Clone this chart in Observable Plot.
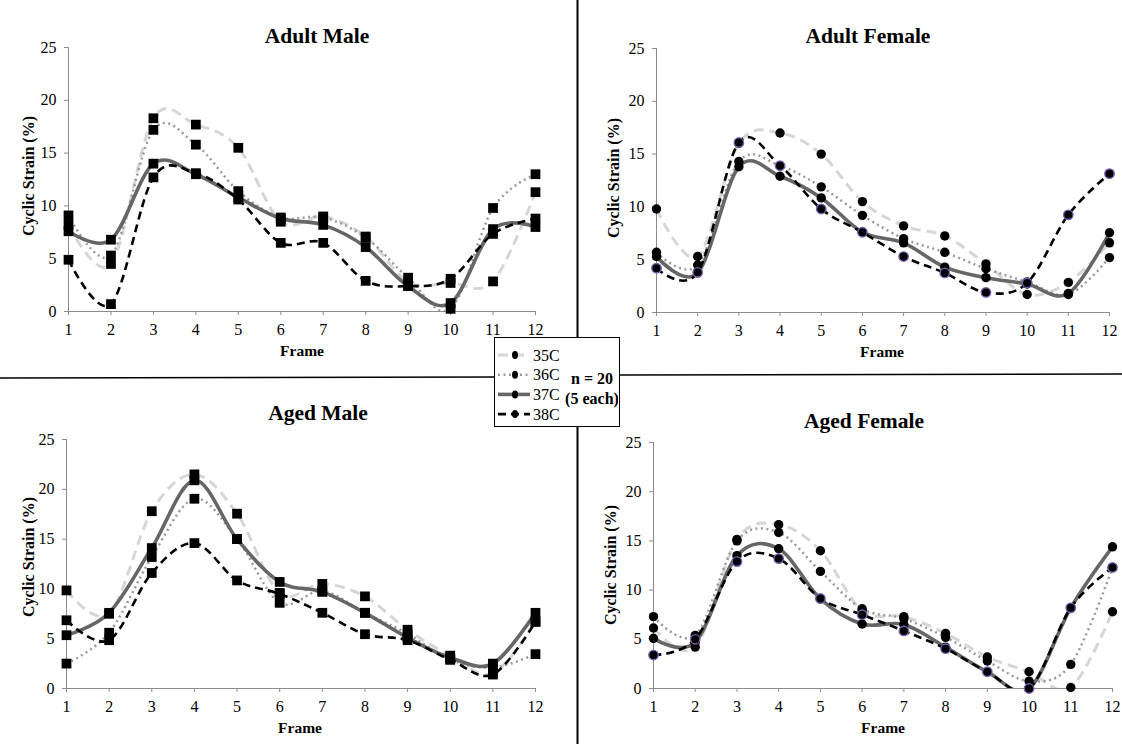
<!DOCTYPE html>
<html>
<head>
<meta charset="utf-8">
<script src="https://cdn.jsdelivr.net/npm/d3@7"></script>
<script src="https://cdn.jsdelivr.net/npm/@observablehq/plot@0.6"></script>
<style>
  body { margin: 0; background: #fff; }
  #root { position: relative; width: 1122px; height: 744px; overflow: hidden; font-family: "Liberation Serif", "Times New Roman", serif; color: #000; }
  .panel { position: absolute; }
  .lbl { position: absolute; transform: translate(-50%, -50%); white-space: nowrap; font-weight: bold; font-family: "Liberation Serif", "Times New Roman", serif; }
  .title { font-size: 21.5px; }
  .xlab { font-size: 15.5px; }
  .ylab { font-size: 16px; transform: translate(-50%, -50%) rotate(-90deg); }
  #dividers { position: absolute; left: 0; top: 0; }
  #legend { position: absolute; left: 494px; top: 337px; width: 126px; height: 90px; box-sizing: border-box; border: 1.5px solid #000; background: #fff; }
</style>
</head>
<body>
<div id="root"></div>
<script>
// ---- data ----
const frames = [1, 2, 3, 4, 5, 6, 7, 8, 9, 10, 11, 12];
const seriesNames = ["35C", "36C", "37C", "38C"];
const yTicks = [0, 5, 10, 15, 20, 25];
const panelTitles = ["Adult Male", "Adult Female", "Aged Male", "Aged Female"];
const xLabel = "Frame";
const yLabel = "Cyclic Strain (%)";
const legendNote = ["n = 20", "(5 each)"];

const adultMale35C = [8.2, 4.5, 18.3, 17.7, 15.5, 8.5, 9.0, 7.1, 2.8, 2.7, 2.85, 11.3];
const adultMale36C = [9.1, 5.3, 17.2, 15.8, 11.4, 8.9, 8.9, 7.0, 3.2, 0.25, 9.8, 13.0];
const adultMale37C = [7.6, 6.8, 14.0, 13.0, 10.8, 8.8, 8.2, 6.1, 2.4, 0.8, 7.8, 8.0];
const adultMale38C = [4.9, 0.7, 12.7, 13.1, 10.6, 6.5, 6.5, 2.9, 2.4, 3.1, 7.35, 8.8];

const adultFemale35C = [9.8, 5.3, 16.0, 17.0, 15.0, 10.5, 8.2, 7.25, 4.6, 1.7, 2.85, 6.6];
const adultFemale36C = [5.7, 4.5, 14.3, 13.9, 11.9, 9.2, 7.0, 5.7, 4.15, 2.9, 1.7, 5.2];
const adultFemale37C = [5.3, 3.75, 13.8, 12.9, 10.85, 7.6, 6.6, 4.3, 3.3, 2.7, 1.8, 7.55];
const adultFemale38C = [4.2, 3.8, 16.1, 13.9, 9.8, 7.6, 5.3, 3.75, 1.9, 2.8, 9.25, 13.15];

const agedMale35C = [9.85, 7.5, 17.8, 21.5, 17.55, 9.6, 10.5, 9.25, 5.9, 3.3, 1.5, 6.7];
const agedMale36C = [2.5, 5.6, 13.2, 19.05, 15.0, 8.6, 9.8, 7.6, 5.5, 2.9, 2.1, 3.45];
const agedMale37C = [5.35, 7.6, 14.1, 20.9, 15.0, 10.7, 9.7, 7.6, 5.1, 3.1, 2.5, 7.6];
const agedMale38C = [6.85, 4.85, 11.6, 14.6, 10.85, 9.5, 7.6, 5.45, 4.85, 2.9, 1.4, 6.7];

const agedFemale35C = [6.15, 4.2, 15.15, 16.65, 14.0, 7.9, 7.3, 5.6, 3.2, 1.7, 0.1, 7.8];
const agedFemale36C = [7.3, 5.4, 15.0, 15.85, 11.9, 8.1, 7.1, 5.2, 2.8, 0.75, 2.45, 12.3];
const agedFemale37C = [5.1, 4.7, 13.5, 14.2, 9.1, 6.55, 6.5, 4.2, 1.7, 0.0, 8.2, 14.4];
const agedFemale38C = [3.4, 5.0, 12.9, 13.2, 9.15, 7.5, 5.85, 4.05, 1.7, 0.0, 8.2, 12.3];

// ---- styles ----
const serif = "'Liberation Serif', 'Times New Roman', serif";
const seriesStyle = {
  "35C": { stroke: "#d6d6d6", strokeWidth: 3, strokeDasharray: "10,6" },
  "36C": { stroke: "#9a9a9a", strokeWidth: 2.5, strokeDasharray: "2,3.5" },
  "37C": { stroke: "#666666", strokeWidth: 3.6, strokeDasharray: null },
  "38C": { stroke: "#000000", strokeWidth: 2.6, strokeDasharray: "8,5" }
};

const panels = [
  { title: panelTitles[0], series: [adultMale35C, adultMale36C, adultMale37C, adultMale38C], symbol: "square",
    left: 0, top: 0, width: 577, height: 376, mL: 68, mR: 42, mT: 47, mB: 65,
    titleXY: [317, 36], xlabXY: [302, 351], ylabXY: [29, 176] },
  { title: panelTitles[1], series: [adultFemale35C, adultFemale36C, adultFemale37C, adultFemale38C], symbol: "circle",
    left: 577, top: 0, width: 545, height: 376, mL: 79, mR: 13, mT: 48, mB: 64,
    titleXY: [868, 36], xlabXY: [882, 352], ylabXY: [614, 178] },
  { title: panelTitles[2], series: [agedMale35C, agedMale36C, agedMale37C, agedMale38C], symbol: "square",
    left: 0, top: 378, width: 577, height: 366, mL: 66, mR: 42, mT: 61, mB: 56,
    titleXY: [318, 413], xlabXY: [300, 728], ylabXY: [29, 557] },
  { title: panelTitles[3], series: [agedFemale35C, agedFemale36C, agedFemale37C, agedFemale38C], symbol: "circle",
    left: 577, top: 378, width: 545, height: 366, mL: 76, mR: 10, mT: 64, mB: 56,
    titleXY: [864, 421], xlabXY: [883, 728], ylabXY: [611, 565] }
];

const root = document.getElementById("root");
const axisGray = "#8c8c8c";

function addLabel(text, cls, xy) {
  const d = document.createElement("div");
  d.className = "lbl " + cls;
  d.textContent = text;
  d.style.left = xy[0] + "px";
  d.style.top = xy[1] + "px";
  root.appendChild(d);
}

for (const p of panels) {
  const rows = seriesNames.flatMap((s, i) => frames.map((f, j) => ({ series: s, frame: f, value: p.series[i][j] })));
  const isCircle = p.symbol === "circle";
  const marks = [
    Plot.ruleY([0], { stroke: axisGray, strokeWidth: 1 }),
    Plot.ruleX([1], { stroke: axisGray, strokeWidth: 1 }),
    Plot.axisY({ ticks: yTicks, tickSize: 4, tickPadding: 8, label: null, stroke: axisGray, fill: "#000", fontSize: 16, fontFamily: serif }),
    Plot.axisX({ ticks: frames, tickSize: 4, tickPadding: 8, label: null, stroke: axisGray, fill: "#000", fontSize: 16, fontFamily: serif, tickFormat: d => String(d) }),
    ...seriesNames.map(s => Plot.line(rows.filter(d => d.series === s), {
      x: "frame", y: "value", curve: "cardinal", tension: 0, clip: true,
      stroke: seriesStyle[s].stroke, strokeWidth: seriesStyle[s].strokeWidth,
      strokeDasharray: seriesStyle[s].strokeDasharray, strokeLinecap: "butt"
    })),
    ...seriesNames.map(s => Plot.dot(rows.filter(d => d.series === s), {
      x: "frame", y: "value", symbol: p.symbol, r: isCircle ? 4.7 : 5.5,
      fill: "#000",
      stroke: (isCircle && s === "38C") ? "#7a5cb0" : "none",
      strokeWidth: 1.4
    }))
  ];
  const chart = Plot.plot({
    width: p.width, height: p.height,
    marginLeft: p.mL, marginRight: p.mR, marginTop: p.mT, marginBottom: p.mB,
    x: { type: "linear", domain: [1, 12] },
    y: { type: "linear", domain: [0, 25] },
    style: { fontFamily: serif, fontSize: "16px", color: "#000", background: "transparent", overflow: "visible" },
    marks
  });
  chart.classList.add("panel");
  chart.style.left = p.left + "px";
  chart.style.top = p.top + "px";
  root.appendChild(chart);
  addLabel(p.title, "title", p.titleXY);
  addLabel(xLabel, "xlab", p.xlabXY);
  addLabel(yLabel, "ylab", p.ylabXY);
}

// dividers
const div = d3.select(root).append("svg").attr("id", "dividers").attr("width", 1122).attr("height", 744);
div.append("line").attr("x1", 577.5).attr("x2", 577.5).attr("y1", 0).attr("y2", 744).attr("stroke", "#000").attr("stroke-width", 2);
div.append("line").attr("x1", 0).attr("x2", 495).attr("y1", 378).attr("y2", 377).attr("stroke", "#000").attr("stroke-width", 1.5);
div.append("line").attr("x1", 620).attr("x2", 1122).attr("y1", 375).attr("y2", 374).attr("stroke", "#000").attr("stroke-width", 1.5);

// legend
const leg = d3.select(root).append("div").attr("id", "legend");
const lsvg = leg.append("svg").attr("width", 123).attr("height", 87).style("position", "absolute").style("left", "0px").style("top", "0px");
seriesNames.forEach((s, i) => {
  const y = 17 + i * 19.7;
  const st = seriesStyle[s];
  lsvg.append("line").attr("x1", 3).attr("x2", 35).attr("y1", y).attr("y2", y)
    .attr("stroke", st.stroke).attr("stroke-width", st.strokeWidth)
    .attr("stroke-dasharray", st.strokeDasharray);
  lsvg.append("ellipse").attr("cx", 20).attr("cy", y).attr("rx", 3).attr("ry", 4).attr("fill", "#000");
  lsvg.append("text").attr("x", 38).attr("y", y).attr("dy", "0.35em").attr("font-size", 16)
    .attr("font-family", serif).text(s);
});
legendNote.forEach((t, i) => {
  lsvg.append("text").attr("x", 97).attr("y", 40 + i * 20).attr("dy", "0.35em").attr("text-anchor", "middle")
    .attr("font-size", 16).attr("font-weight", "bold").attr("font-family", serif).text(t);
});
</script>
</body>
</html>
